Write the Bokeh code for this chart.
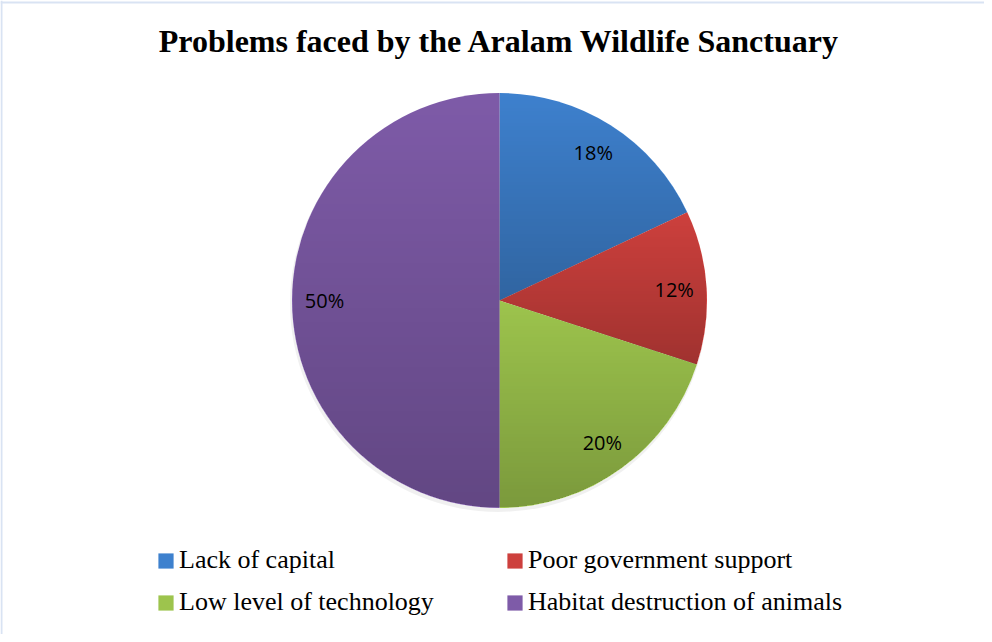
import numpy as np
from bokeh.plotting import figure
from bokeh.models import ColumnDataSource, Range1d, Label, Legend, LegendItem, Span
from bokeh.core.properties import value
from bokeh.embed import file_html
from bokeh.resources import INLINE

# ---- data ----
categories = ["Lack of capital", "Poor government support",
              "Low level of technology", "Habitat destruction of animals"]
shares = [18, 12, 20, 50]
colors = ["#3e81ce", "#cd403d", "#9dc44d", "#7e5ba8"]
title_text = "Problems faced by the Aralam Wildlife Sanctuary"

# ---- layout ----
W, H = 984, 634
cx, cy, R = 499, 334, 207.5
label_r = 175
shade_max = 0.22

vals = np.array(shares, dtype=float)
frac = vals / vals.sum()
cum = np.concatenate([[0], np.cumsum(frac)])
start = np.pi / 2 - cum[:-1] * 2 * np.pi
end = np.pi / 2 - cum[1:] * 2 * np.pi
mid = (start + end) / 2

src = ColumnDataSource(dict(
    cat=categories, start=start, end=end, color=colors,
    lx=cx + label_r * np.cos(mid), ly=cy + label_r * np.sin(mid),
    lab=[f"{v:.0f}%" for v in vals],
))

p = figure(width=W, height=H, x_range=Range1d(0, W), y_range=Range1d(0, H),
           output_backend="svg", toolbar_location=None, min_border=0)
p.axis.visible = False
p.grid.visible = False
p.outline_line_color = None
p.background_fill_color = "white"
p.border_fill_color = "white"

# chart frame (left & top edges visible in the reference)
p.add_layout(Span(location=1, dimension="height", line_color="#d9e3f3", line_width=2))
p.add_layout(Span(location=H - 2, dimension="width", line_color="#d9e3f3", line_width=2))

# faint shadow
p.circle(x=cx - 1, y=cy - 3, radius=R + 1, fill_color="#000000", fill_alpha=0.06, line_color=None)

r = p.wedge(x=cx, y=cy, radius=R, start_angle="start", end_angle="end",
            direction="clock", fill_color="color", line_color=None, source=src)

# per-slice vertical shading overlay (light at top, darker at bottom of each slice)
ymins, ymaxs = [], []
for s, e in zip(start, end):
    th = np.linspace(s, e, 400)
    ys = np.concatenate([[cy], cy + R * np.sin(th)])
    ymins.append(ys.min()); ymaxs.append(ys.max())
ymins = np.array(ymins); ymaxs = np.array(ymaxs)
N = int(2 * R)
gx = cx - R + (np.arange(N) + 0.5) * (2 * R / N)
gy = cy - R + (np.arange(N) + 0.5) * (2 * R / N)
XX, YY = np.meshgrid(gx, gy)
dist = np.hypot(XX - cx, YY - cy)
phi = np.mod(np.pi / 2 - np.arctan2(YY - cy, XX - cx), 2 * np.pi) / (2 * np.pi)
sl = np.clip(np.searchsorted(cum, phi, side="right") - 1, 0, len(vals) - 1)
t = (ymaxs[sl] - YY) / (ymaxs[sl] - ymins[sl])
alpha = np.where(dist <= R - 0.6, shade_max * np.clip(t, 0, 1), 0.0)
img = np.zeros((N, N), dtype=np.uint32)
view = img.view(dtype=np.uint8).reshape((N, N, 4))
view[:, :, 3] = (alpha * 255).astype(np.uint8)
p.image_rgba(image=[img], x=cx - R, y=cy - R, dw=2 * R, dh=2 * R)

p.text(x="lx", y="ly", text="lab", source=src, text_align="center", text_baseline="middle",
       text_font=value("Open Sans"), text_font_size="20px", text_color="black")

p.add_layout(Label(x=cx, y=594, text=title_text, text_align="center", text_baseline="middle",
                   text_font="Liberation Serif", text_font_style="bold",
                   text_font_size="32px", text_color="black"))

def make_legend(idx, x0):
    return Legend(items=[LegendItem(label=categories[i], renderers=[r], index=i) for i in idx],
                  location=(x0, 17), orientation="vertical",
                  glyph_width=19, glyph_height=19, label_height=30, spacing=12,
                  label_standoff=4, padding=0, margin=0,
                  border_line_color=None, background_fill_alpha=0,
                  label_text_font="Liberation Serif", label_text_font_size="26px",
                  label_text_color="black")

p.add_layout(make_legend([0, 2], 156))
p.add_layout(make_legend([1, 3], 505))

open("out.html", "w").write(file_html(p, INLINE))
